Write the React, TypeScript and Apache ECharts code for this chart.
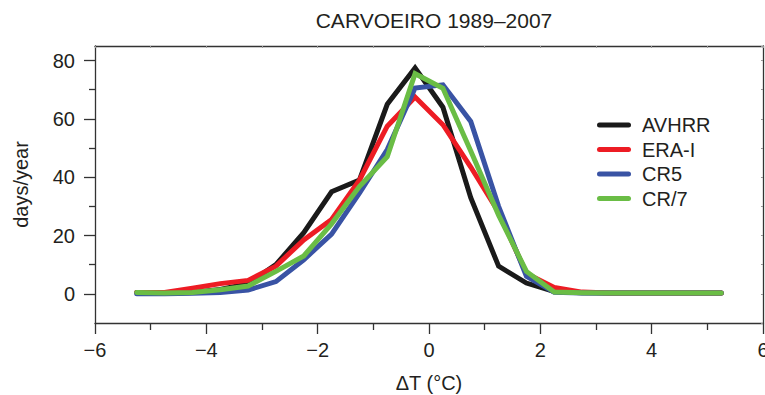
import React, { useEffect, useRef } from "react";
import * as echarts from "echarts";

const titleText = "CARVOEIRO 1989–2007";
const seriesNames = ["AVHRR", "ERA-I", "CR5", "CR/7"];
const seriesColors = ["#1a1a1a", "#ed1c24", "#3953a4", "#6abd45"];

const xs = [-5.25, -4.75, -4.25, -3.75, -3.25, -2.75, -2.25, -1.75, -1.25, -0.75, -0.25, 0.25, 0.75, 1.25, 1.75, 2.25, 2.75, 3.25, 3.75, 4.25, 4.75, 5.25];
const avhrr = [0.5, 0.3, 0.5, 1.5, 3.5, 10, 21, 35, 39, 65, 77.5, 64, 33, 9.5, 3.7, 0.8, 0.4, 0.3, 0.3, 0.3, 0.3, 0.3];
const eraI = [0.5, 0.5, 1.9, 3.5, 4.6, 9.5, 18.5, 25.5, 39, 57.5, 67.5, 58, 43.5, 28, 7, 2.2, 0.6, 0.3, 0.3, 0.3, 0.3, 0.3];
const cr5 = [0, 0, 0.2, 0.5, 1.3, 4.2, 11.7, 20.5, 34.5, 49.5, 70.6, 71.7, 59.1, 30, 6, 0.5, 0.3, 0.3, 0.3, 0.3, 0.3, 0.3];
const cr7 = [0.5, 0.3, 0.5, 1.4, 2.7, 7.7, 13, 24, 36.8, 47, 75.5, 70.5, 49, 27, 7.7, 0.6, 0.4, 0.3, 0.3, 0.3, 0.3, 0.3];

const yMajorTicks = [0, 20, 40, 60, 80];
const yMinorTicks = [10, 30, 50, 70];

const FONT = "'Liberation Sans', Arial, Helvetica, sans-serif";
const TEXT = "#231f20";
const AXIS = "#333333";
const CAPSULE = "path://M2.5,0 L31.5,0 A2.5,2.5 0 0 1 31.5,5 L2.5,5 A2.5,2.5 0 0 1 2.5,0 Z";

export default function App() {
  const ref = useRef<HTMLDivElement>(null);
  useEffect(() => {
    if (!ref.current) return;
    const chart = echarts.init(ref.current, null, { renderer: "svg" });
    const all = [avhrr, eraI, cr5, cr7];
    const fmt = (v: number) => (v < 0 ? "\u2212" + Math.abs(v) : String(v));
    chart.setOption({
      animation: false,
      backgroundColor: "#ffffff",
      textStyle: { fontFamily: FONT },
      title: {
        text: titleText,
        left: 429,
        top: 5,
        textAlign: "center",
        textStyle: { fontSize: 21, fontWeight: "normal", color: TEXT, fontFamily: FONT },
      },
      grid: { left: 95, right: 2, top: 46, bottom: 72, containLabel: false, outerBoundsMode: "none" },
      legend: {
        orient: "vertical",
        left: 597,
        top: 115,
        padding: 0,
        itemWidth: 34,
        itemHeight: 5,
        itemGap: 4.5,
        icon: CAPSULE,
        data: seriesNames,
        textStyle: { fontSize: 20, lineHeight: 20, color: TEXT, fontFamily: FONT, padding: [0, 0, 0, 6] },
      },
      xAxis: [
        {
          type: "value",
          position: "bottom",
          min: -6,
          max: 6,
          interval: 2,
          name: "ΔT (°C)",
          nameLocation: "middle",
          nameGap: 50,
          nameTextStyle: { fontSize: 20, color: TEXT, fontFamily: FONT },
          axisLine: { show: true, onZero: false, lineStyle: { color: AXIS, width: 1.3 } },
          axisTick: { show: true, inside: false, length: 11, lineStyle: { color: AXIS, width: 1.3 } },
          minorTick: { show: true, splitNumber: 2, length: 7, lineStyle: { color: AXIS, width: 1.3 } },
          axisLabel: { fontSize: 20, color: TEXT, margin: 17, formatter: fmt, fontFamily: FONT },
          splitLine: { show: false },
        },
        {
          type: "value",
          position: "top",
          min: -6,
          max: 6,
          interval: 1,
          axisLine: { show: true, onZero: false, lineStyle: { color: AXIS, width: 1.3 } },
          axisTick: { show: true, inside: true, length: 2, lineStyle: { color: "#999", width: 1 } },
          axisLabel: { show: false },
          splitLine: { show: false },
        },
      ],
      yAxis: [
        {
          type: "value",
          position: "left",
          min: -10,
          max: 85,
          name: "days/year",
          nameLocation: "middle",
          nameGap: 64,
          nameTextStyle: { fontSize: 20, color: TEXT, fontFamily: FONT },
          axisLine: { show: true, onZero: false, lineStyle: { color: AXIS, width: 1.3 } },
          axisTick: { show: true, inside: false, length: 11, customValues: yMajorTicks, lineStyle: { color: AXIS, width: 1.3 } },
          axisLabel: { fontSize: 20, color: TEXT, margin: 20, customValues: yMajorTicks, fontFamily: FONT },
          splitLine: { show: false },
        },
        {
          type: "value",
          position: "left",
          offset: 0,
          min: -10,
          max: 85,
          axisLine: { show: false, onZero: false },
          axisTick: { show: true, inside: false, length: 6, customValues: yMinorTicks, lineStyle: { color: AXIS, width: 1.3 } },
          axisLabel: { show: false },
          splitLine: { show: false },
        },
        {
          type: "value",
          position: "right",
          min: -10,
          max: 85,
          interval: 10,
          axisLine: { show: true, onZero: false, lineStyle: { color: AXIS, width: 1.3 } },
          axisTick: { show: true, inside: true, length: 2, lineStyle: { color: "#999", width: 1 } },
          axisLabel: { show: false },
          splitLine: { show: false },
        },
      ],
      series: seriesNames.map((name, i) => ({
        name,
        type: "line",
        xAxisIndex: 0,
        yAxisIndex: 0,
        symbol: "none",
        z: 2 + i,
        color: seriesColors[i],
        lineStyle: { color: seriesColors[i], width: 5, cap: "round", join: "miter" },
        data: xs.map((x, j) => [x, all[i][j]]),
      })),
    });
    return () => chart.dispose();
  }, []);
  return <div ref={ref} style={{ position: "fixed", left: 0, top: 0, width: 765, height: 395 }} />;
}
